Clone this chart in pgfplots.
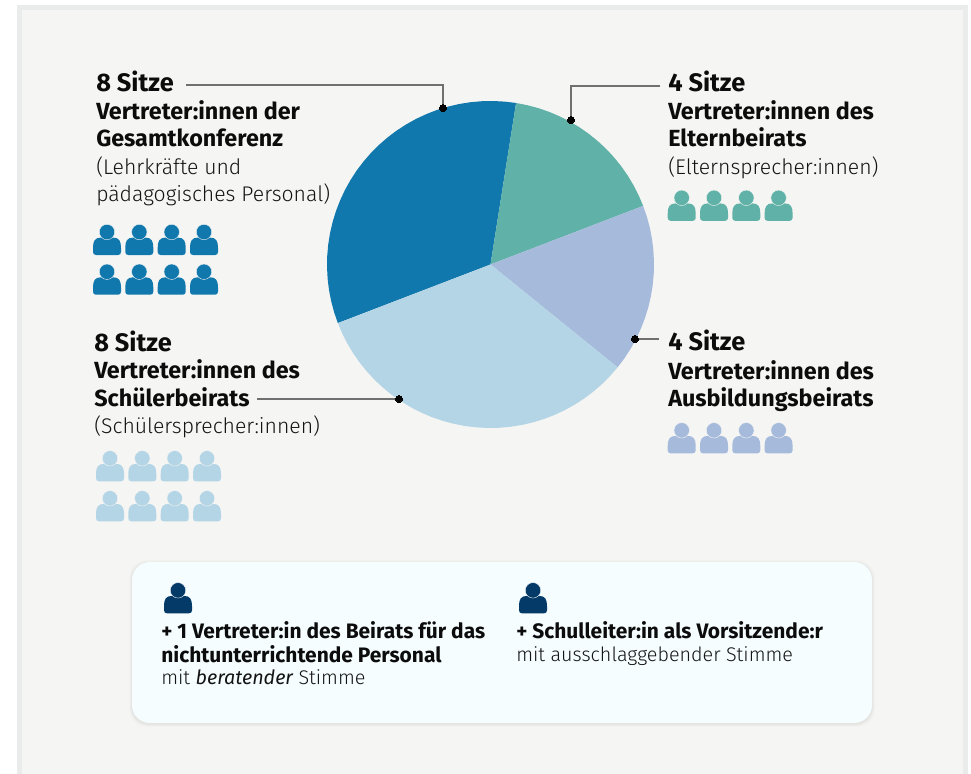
\documentclass[border=0pt]{standalone}
\usepackage{fontspec}
\usepackage{pgfplots}
\pgfplotsset{compat=1.18}
\usepgfplotslibrary{polar}
\setmainfont{Fira Sans}[BoldFont={Fira Sans SemiBold},ItalicFont={Fira Sans Light Italic}]
\newfontfamily\lightf{Fira Sans Light}[ItalicFont={Fira Sans Italic}]
\newfontfamily\boldf{Fira Sans}[UprightFont={* Bold}]
\definecolor{frame}{HTML}{E9ECEA}
\definecolor{panel}{HTML}{F5F5F3}
\definecolor{card}{HTML}{F5FDFF}
\definecolor{cDark}{HTML}{1078AD}
\definecolor{cTeal}{HTML}{60B2A8}
\definecolor{cLav}{HTML}{A6BBDB}
\definecolor{cLight}{HTML}{B4D5E6}
\definecolor{cNavy}{HTML}{033A68}
\definecolor{txt}{HTML}{0C0C0C}
\definecolor{ltxt}{HTML}{141414}
\definecolor{leader}{HTML}{707070}
\pgfdeclareplotmark{person}{%
  \pgfpathmoveto{\pgfpoint{-8.25pt}{-11.5pt}}
  \pgflineto{\pgfpoint{8.25pt}{-11.5pt}}
  \pgfpathcurveto{\pgfpoint{9.6pt}{-11.5pt}}{\pgfpoint{10.5pt}{-10.6pt}}{\pgfpoint{10.5pt}{-9.25pt}}
  \pgflineto{\pgfpoint{10.5pt}{-6pt}}
  \pgfpathcurveto{\pgfpoint{10.5pt}{-1.2pt}}{\pgfpoint{9.2pt}{1.6pt}}{\pgfpoint{4.5pt}{1.6pt}}
  \pgflineto{\pgfpoint{-4.5pt}{1.6pt}}
  \pgfpathcurveto{\pgfpoint{-9.2pt}{1.6pt}}{\pgfpoint{-10.5pt}{-1.2pt}}{\pgfpoint{-10.5pt}{-6pt}}
  \pgflineto{\pgfpoint{-10.5pt}{-9.25pt}}
  \pgfpathcurveto{\pgfpoint{-10.5pt}{-10.6pt}}{\pgfpoint{-9.6pt}{-11.5pt}}{\pgfpoint{-8.25pt}{-11.5pt}}
  \pgfpathclose
  \pgfusepathqfill
  \pgfsetstrokecolor{panel}
  \pgfsetlinewidth{0.3pt}
  \pgfpathcircle{\pgfpoint{0pt}{5.75pt}}{5.8pt}
  \pgfusepathqfillstroke
}
\newcommand\lab[4]{\node[anchor=base west,inner sep=0pt,font=#3] at (axis cs:#1,#2) {#4};}
\newcommand\sz{\fontsize{19}{21}\boldf\color{txt}}
\newcommand\bd{\fontsize{17.5}{20}\boldf\color{txt}}
\newcommand\lt{\fontsize{15.9}{19}\lightf\color{ltxt}}
\newcommand\cb{\fontsize{15.7}{18}\boldf\color{txt}}
\newcommand\cl{\fontsize{14.8}{17}\lightf\color{ltxt}}
\begin{document}
\begin{tikzpicture}[x=0.75pt,y=0.75pt]
\fill[white] (0,0) rectangle (971,774);
\fill[frame] (17,0) rectangle (968,769);
\fill[panel] (22,0) rectangle (963,764);
% card
\foreach \o/\a in {3/0.012,2/0.02,1/0.03}{
  \fill[black,opacity=\a,rounded corners=13.5pt] (132-\o,51-\o-1) rectangle (872+\o,212+\o-1);}
\fill[card,rounded corners=13.5pt] (132,51) rectangle (872,212);
% pie
\begin{axis}[at={(0,0)},anchor=south west,scale only axis,width=728.25pt,height=580.5pt,
  hide axis,clip=false,xmin=-490.5,xmax=480.5,ymin=-509.5,ymax=264.5,data cs=polar]
\addplot[fill=cDark,draw=none] coordinates {(0,0)
 (81,163.5)(85,163.5)(89,163.5)(93,163.5)(97,163.5)(101,163.5)(105,163.5)(109,163.5)(113,163.5)(117,163.5)(121,163.5)
 (125,163.5)(129,163.5)(133,163.5)(137,163.5)(141,163.5)(145,163.5)(149,163.5)(153,163.5)(157,163.5)(161,163.5)
 (165,163.5)(169,163.5)(173,163.5)(177,163.5)(181,163.5)(185,163.5)(189,163.5)(193,163.5)(197,163.5)(201,163.5)} -- cycle;
\addplot[fill=cTeal,draw=none] coordinates {(0,0)
 (21,163.5)(25,163.5)(29,163.5)(33,163.5)(37,163.5)(41,163.5)(45,163.5)(49,163.5)(53,163.5)(57,163.5)(61,163.5)
 (65,163.5)(69,163.5)(73,163.5)(77,163.5)(81,163.5)} -- cycle;
\addplot[fill=cLav,draw=none] coordinates {(0,0)
 (-39,163.5)(-35,163.5)(-31,163.5)(-27,163.5)(-23,163.5)(-19,163.5)(-15,163.5)(-11,163.5)(-7,163.5)(-3,163.5)(1,163.5)
 (5,163.5)(9,163.5)(13,163.5)(17,163.5)(21,163.5)} -- cycle;
\addplot[fill=cLight,draw=none] coordinates {(0,0)
 (201,163.5)(205,163.5)(209,163.5)(213,163.5)(217,163.5)(221,163.5)(225,163.5)(229,163.5)(233,163.5)(237,163.5)(241,163.5)
 (245,163.5)(249,163.5)(253,163.5)(257,163.5)(261,163.5)(265,163.5)(269,163.5)(273,163.5)(277,163.5)(281,163.5)
 (285,163.5)(289,163.5)(293,163.5)(297,163.5)(301,163.5)(305,163.5)(309,163.5)(313,163.5)(317,163.5)(321,163.5)} -- cycle;
\end{axis}
% overlay
\begin{axis}[at={(0,0)},anchor=south west,scale only axis,width=728.25pt,height=580.5pt,
  hide axis,clip=false,xmin=0,xmax=971,ymin=0,ymax=774,y dir=reverse]
\addplot[leader,line width=1pt] coordinates {(186,85)(443,85)(443,108)};
\addplot[leader,line width=1pt] coordinates {(660,86)(571,86)(571,120)};
\addplot[leader,line width=1pt] coordinates {(659,339)(635,339)};
\addplot[leader,line width=1pt] coordinates {(257,399)(399,399)};
\addplot[only marks,mark=*,mark size=2.6pt,mark options={fill=black,draw=black,line width=0pt}]
 coordinates {(443,108)(571,120)(635,339)(399,399)};
% seat icons
\addplot[only marks,mark=person,mark options={fill=cDark,draw=cDark}] coordinates {
 (107,239.7)(139.3,239.7)(171.7,239.7)(204,239.7)(107,279.4)(139.3,279.4)(171.7,279.4)(204,279.4)};
\addplot[only marks,mark=person,mark options={fill=cTeal,draw=cTeal}] coordinates {
 (681.7,205.5)(714,205.5)(746.3,205.5)(778.6,205.5)};
\addplot[only marks,mark=person,mark options={fill=cLav,draw=cLav}] coordinates {
 (681.7,438)(714,438)(746.3,438)(778.6,438)};
\addplot[only marks,mark=person,mark options={fill=cLight,draw=cLight}] coordinates {
 (110,466)(142.3,466)(174.7,466)(207,466)(110,506)(142.3,506)(174.7,506)(207,506)};
\addplot[only marks,mark=person,mark options={fill=cNavy,draw=cNavy}] coordinates {(178,598)(533,598)};
% texts
\lab{96}{92}{\sz}{8 Sitze}
\lab{96}{120}{\bd}{Vertreter:innen der}
\lab{96}{147}{\bd}{Gesamtkonferenz}
\lab{96}{175}{\lt}{(Lehrkräfte und}
\lab{96}{202}{\lt}{pädagogisches Personal)}
\lab{668}{92}{\sz}{4 Sitze}
\lab{668}{120}{\bd}{Vertreter:innen des}
\lab{668}{147}{\bd}{Elternbeirats}
\lab{668}{175}{\lt}{(Elternsprecher:innen)}
\lab{94}{351}{\sz}{8 Sitze}
\lab{94}{378}{\bd}{Vertreter:innen des}
\lab{94}{406}{\bd}{Schülerbeirats}
\lab{94}{433}{\lt}{(Schülersprecher:innen)}
\lab{668}{350}{\sz}{4 Sitze}
\lab{668}{379}{\bd}{Vertreter:innen des}
\lab{668}{406}{\bd}{Ausbildungsbeirats}
\lab{161}{638}{\cb}{+ 1 Vertreter:in des Beirats für das}
\lab{161}{662}{\cb}{nichtunterrichtende Personal}
\lab{161}{684}{\cl}{mit {\itshape beratender} Stimme}
\lab{516}{638}{\cb}{+ Schulleiter:in als Vorsitzende:r}
\lab{516}{661}{\cl}{mit ausschlaggebender Stimme}
\end{axis}
\end{tikzpicture}
\end{document}
